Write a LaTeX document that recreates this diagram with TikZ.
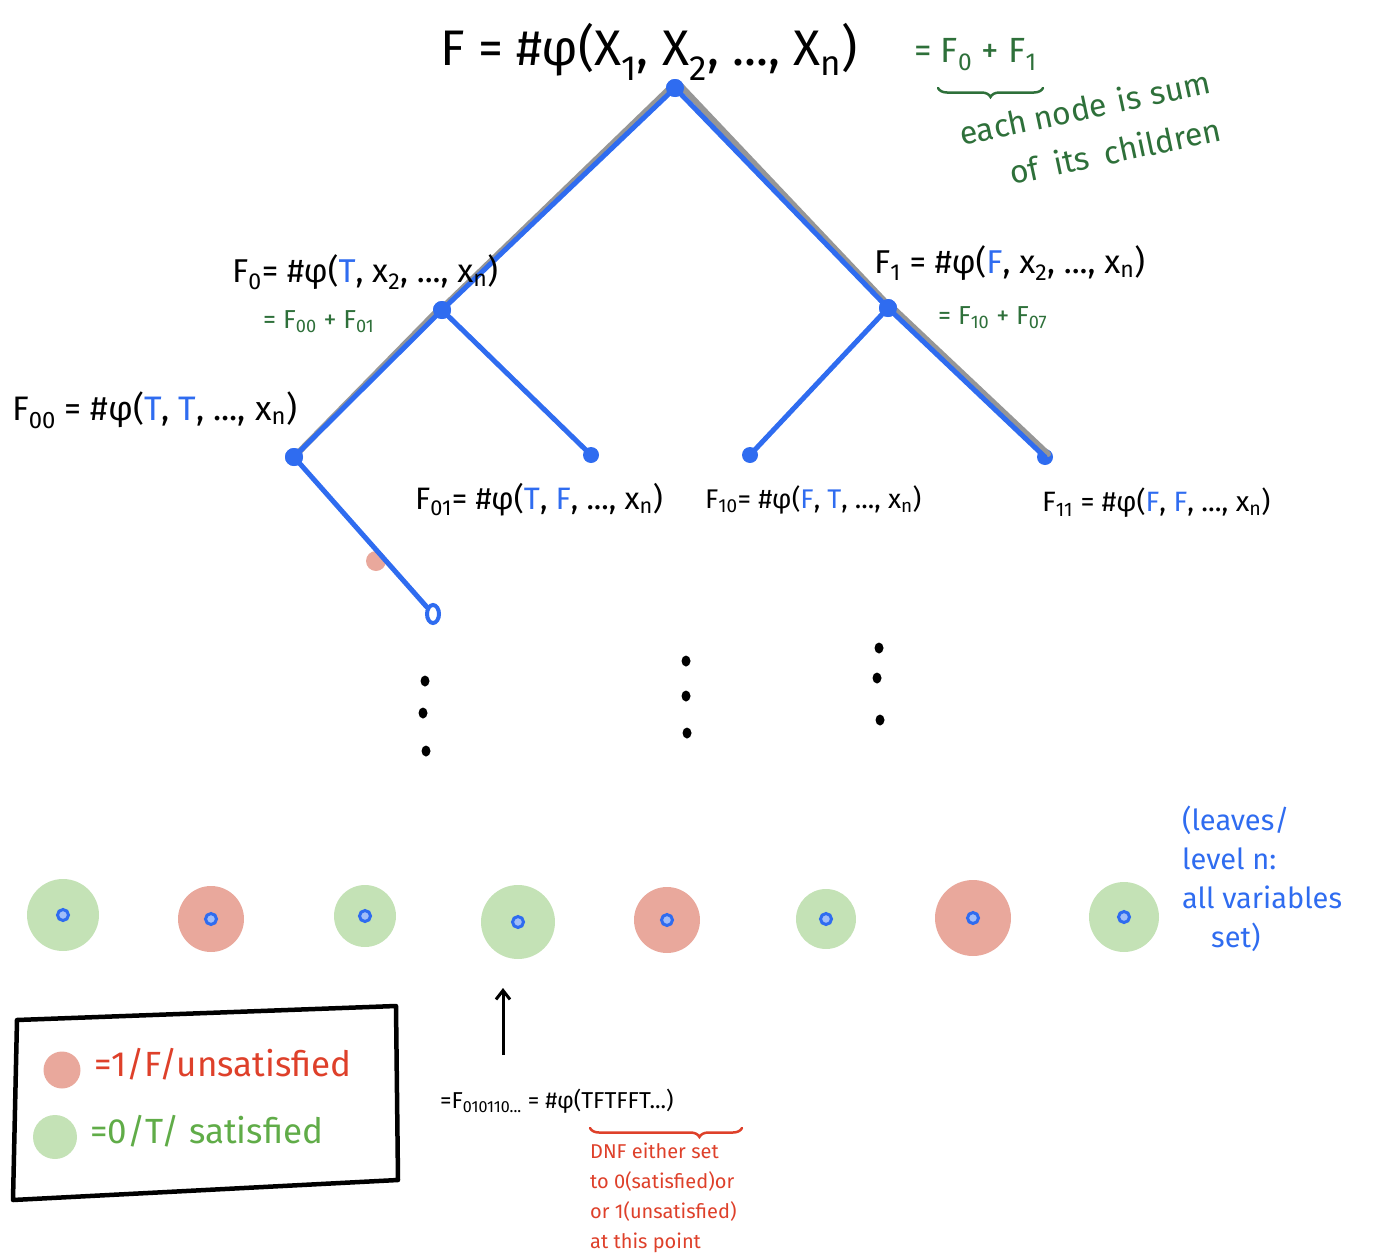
\documentclass[tikz,border=0pt]{standalone}
\usepackage{fontspec}
\setmainfont{Fira Sans}
\usetikzlibrary{shapes.geometric,arrows.meta,decorations.pathreplacing}
\definecolor{pblue}{RGB}{47,108,240}
\definecolor{pgreen}{RGB}{46,112,58}
\definecolor{lgreen}{RGB}{96,172,72}
\definecolor{pred}{RGB}{222,64,42}
\definecolor{cred}{RGB}{233,168,156}
\definecolor{cgreen}{RGB}{196,226,182}
\definecolor{pgray}{RGB}{150,150,150}
\begin{document}
\begin{tikzpicture}[x=1pt,y=-1pt,
  edge/.style={pblue,line width=5pt,line cap=round},
  shadowline/.style={pgray,line width=6pt,line cap=round},
  treedot/.style={circle,fill=pblue,inner sep=0pt,minimum size=18pt},
  vdot/.style={ellipse,fill=black,inner sep=0pt,minimum width=9pt,minimum height=11pt},
  lbl/.style={anchor=west,inner sep=0pt},
  noteword/.style={anchor=base west,inner sep=0pt,rotate=12,text=pgreen,font=\fontsize{32}{36}\selectfont},
  leafred/.style={circle,fill=cred,inner sep=0pt},
  leafgreen/.style={circle,fill=cgreen,inner sep=0pt},
  core/.style={circle,draw=pblue,fill=pblue!45,line width=3pt,inner sep=0pt,minimum size=11pt},
  brace/.style={decorate,line width=2.5pt,line cap=round}
]
\useasboundingbox (0,0) rectangle (1374,1258);

% ---- tree nodes
\node[treedot] (root) at (675,88) {};
\node[treedot] (f0) at (442,310) {};
\node[treedot] (f1) at (888,308) {};
\node[treedot] (f00) at (294,457) {};
\node[treedot,minimum size=16pt] (f01) at (591,455) {};
\node[treedot,minimum size=16pt] (f10) at (750,455) {};
\node[treedot,minimum size=16pt] (f11) at (1045,457) {};
\node[ellipse,draw=pblue,fill=white,line width=4pt,inner sep=0pt,minimum width=12pt,minimum height=18pt] (f000) at (433,614) {};
\node[circle,fill=cred,inner sep=0pt,minimum size=20pt] (pink) at (376,561) {};

% ---- shadows
\draw[shadowline] ([xshift=-5pt]root.center) -- ([xshift=-5pt,yshift=-3pt]f0.center);
\draw[shadowline] ([xshift=4pt,yshift=4pt]root.center) -- ([xshift=5pt,yshift=-2pt]f1.center);
\draw[shadowline] ([xshift=-4pt]f0.center) -- ([xshift=-3pt,yshift=-3pt]f00.center);
\draw[shadowline] ([xshift=3pt,yshift=2pt]f1.center) -- ([xshift=3pt,yshift=3pt]f11.center);

% ---- edges
\draw[edge] (root.center) -- (f0.center);
\draw[edge] (root.center) -- (f1.center);
\draw[edge] (f0.center) -- (f00.center);
\draw[edge] (f0.center) -- (f01.center);
\draw[edge] (f1.center) -- (f10.center);
\draw[edge] (f1.center) -- (f11.center);
\draw[edge] (f00.center) -- (f000);
\node[treedot] at (root) {};
\node[treedot] at (f0) {};
\node[treedot] at (f1) {};
\node[treedot] at (f00) {};

% ---- labels
\node[lbl,font=\fontsize{50}{56}\selectfont] (ftop) at (440,52)
  {F = \#φ(X\textsubscript{1}, X\textsubscript{2}, ..., X\textsubscript{n})};
\node[lbl,font=\fontsize{35}{40}\selectfont,text=pgreen] (ftopsum) at (914,55)
  {= F\textsubscript{0} + F\textsubscript{1}};
\coordinate (bl) at (938,88);
\coordinate (br) at (1043,88);
\draw[brace,pgreen,decoration={brace,mirror,amplitude=9pt}] (bl) -- (br);
\begin{scope}[shift={(962,146)},rotate=12]
  \node[noteword] (w1) at (0,0) {each};
  \node[noteword] (w2) at (76,0) {node};
  \node[noteword] (w3) at (161,0) {is};
  \node[noteword] (w4) at (195,0) {sum};
\end{scope}
\begin{scope}[shift={(1012,185)},rotate=12]
  \node[noteword] (w5) at (0,0) {of};
  \node[noteword] (w6) at (45,0) {its};
  \node[noteword] (w7) at (96,0) {children};
\end{scope}

\node[lbl,font=\fontsize{33}{40}\selectfont] (l0) at (232,272)
  {F\textsubscript{0}= \#φ({\color{pblue}T}, x\textsubscript{2}, ..., x\textsubscript{n})};
\node[lbl,font=\fontsize{26}{30}\selectfont,text=pgreen] (l0s) at (263,322)
  {= F\textsubscript{00} + F\textsubscript{01}};
\node[lbl,font=\fontsize{33}{40}\selectfont] (l1) at (874,263)
  {F\textsubscript{1} = \#φ({\color{pblue}F}, x\textsubscript{2}, ..., x\textsubscript{n})};
\node[lbl,font=\fontsize{26}{30}\selectfont,text=pgreen] (l1s) at (938,318)
  {= F\textsubscript{10} + F\textsubscript{07}};
\node[lbl,font=\fontsize{34}{40}\selectfont] (l00) at (12,410)
  {F\textsubscript{00} = \#φ({\color{pblue}T}, {\color{pblue}T}, ..., x\textsubscript{n})};
\node[lbl,font=\fontsize{31}{36}\selectfont] (l01) at (415,500)
  {F\textsubscript{01}= \#φ({\color{pblue}T}, {\color{pblue}F}, ..., x\textsubscript{n})};
\node[lbl,font=\fontsize{27}{32}\selectfont] (l10) at (705,500)
  {F\textsubscript{10}= \#φ({\color{pblue}F}, {\color{pblue}T}, ..., x\textsubscript{n})};
\node[lbl,font=\fontsize{28}{32}\selectfont] (l11) at (1042,503)
  {F\textsubscript{11} = \#φ({\color{pblue}F}, {\color{pblue}F}, ..., x\textsubscript{n})};

% ---- vertical dots
\node[vdot] (d1a) at (425,681) {};
\node[vdot] (d1b) at (423,713) {};
\node[vdot] (d1c) at (426,751) {};
\node[vdot] (d2a) at (686,661) {};
\node[vdot] (d2b) at (686,696) {};
\node[vdot] (d2c) at (687,733) {};
\node[vdot] (d3a) at (879,648) {};
\node[vdot] (d3b) at (877,678) {};
\node[vdot] (d3c) at (880,720) {};

% ---- leaves
\node[leafgreen,minimum size=72pt] (lf1) at (63,915) {};
\node[leafred,minimum size=66pt] (lf2) at (211,919) {};
\node[leafgreen,minimum size=62pt] (lf3) at (365,916) {};
\node[leafgreen,minimum size=74pt] (lf4) at (518,922) {};
\node[leafred,minimum size=66pt] (lf5) at (667,920) {};
\node[leafgreen,minimum size=60pt] (lf6) at (826,919) {};
\node[leafred,minimum size=76pt] (lf7) at (973,918) {};
\node[leafgreen,minimum size=70pt] (lf8) at (1124,917) {};
\foreach \l in {lf1,lf2,lf3,lf4,lf5,lf6,lf7,lf8} {\node[core] at (\l) {};}

\node[lbl,font=\fontsize{29}{39}\selectfont,text=pblue,align=left,anchor=north west] (leafnote) at (1182,806)
  {(leaves/\\ level n:\\ all variables\\ \hspace*{1em}set)};

% ---- arrow and leaf formula
\node[lbl,font=\fontsize{23}{28}\selectfont] (leafformula) at (440,1101)
  {=F\textsubscript{010110...} = \#φ(TFTFFT...)};
\coordinate (arrowtip) at (503,988);
\coordinate (arrowtail) at (503,1055);
\draw[line width=3pt,-{Straight Barb[length=9pt,width=14pt]}] (arrowtail) -- (arrowtip);
\coordinate (rbl) at (590,1128);
\coordinate (rbr) at (742,1128);
\draw[brace,pred,decoration={brace,mirror,amplitude=9pt,aspect=0.72}] (rbl) -- (rbr);
\node[lbl,font=\fontsize{20}{30}\selectfont,text=pred,align=left,anchor=north west] (dnf) at (590,1143)
  {DNF either set\\ to 0(satisfied)or\\ or 1(unsatisfied)\\ at this point};

% ---- legend
\draw[line width=4.5pt,line join=round] (17,1020) coordinate (bx1) -- (396,1006) coordinate (bx2)
  -- (398,1180) coordinate (bx3) -- (13,1200) coordinate (bx4) -- cycle;
\node[circle,fill=cred,inner sep=0pt,minimum size=37pt] (legred) at (62,1070) {};
\node[circle,fill=cgreen,inner sep=0pt,minimum size=44pt] (leggreen) at (55,1137) {};
\node[lbl,font=\fontsize{35}{40}\selectfont,text=pred] (legredt) at (94,1064) {=1/F/unsatisfied};
\node[lbl,font=\fontsize{35}{40}\selectfont,text=lgreen] (leggreent) at (90,1131) {=0/T/ satisfied};
\end{tikzpicture}
\end{document}
